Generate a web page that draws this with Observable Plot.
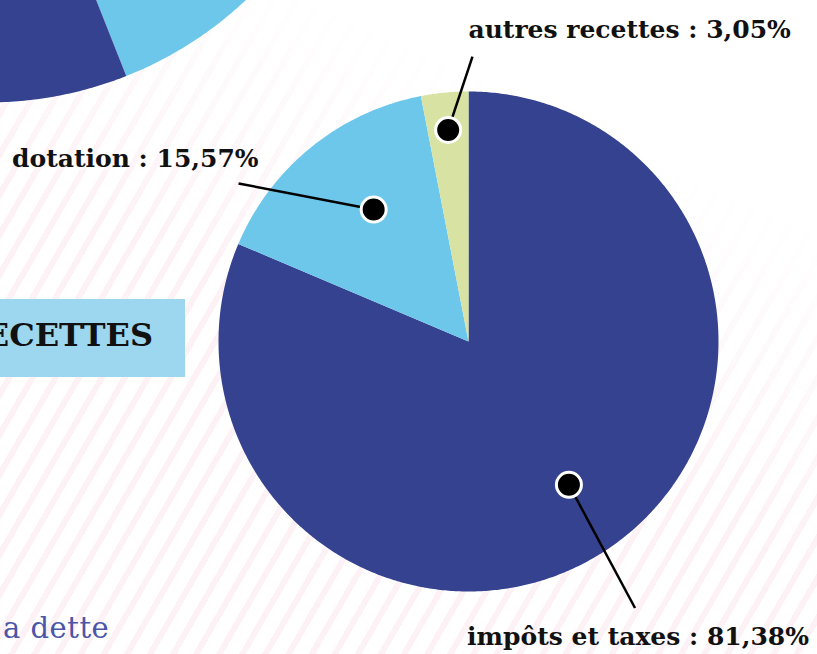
<!DOCTYPE html>
<html>
<head>
<meta charset="utf-8">
<script src="https://cdn.jsdelivr.net/npm/d3@7"></script>
<script src="https://cdn.jsdelivr.net/npm/@observablehq/plot@0.6"></script>
<style>
  html, body { margin: 0; padding: 0; }
  body {
    width: 817px; height: 654px; overflow: hidden; position: relative;
    background:
      linear-gradient(205deg, #fff 22%, rgba(255,255,255,0) 55%),
      repeating-linear-gradient(120deg, rgba(255,255,255,0) 0px, rgba(255,255,255,0) 14px, rgba(238,150,180,0.13) 14px, rgba(238,150,180,0.13) 20px),
      #fff;
  }
  #chart { position: absolute; left: 0; top: 0; }
  #section {
    position: absolute; left: 0; top: 299px; width: 185px; height: 78px;
    background: #9dd6ef; overflow: hidden;
  }
  #section span {
    position: absolute; right: 32px; top: 17px;
    font-family: "DejaVu Serif", serif; font-weight: bold; font-size: 32px; color: #111;
    white-space: nowrap;
  }
  #footer {
    position: absolute; left: 3px; top: 611px;
    font-family: "DejaVu Serif", serif; font-size: 29px; color: #4b56a8;
    white-space: nowrap; letter-spacing: 0.5px;
  }
</style>
</head>
<body>
<div id="chart"></div>
<div id="section"><span>RECETTES</span></div>
<div id="footer">a dette</div>
<script>
// ---- Data (main chart: recettes) ----
const categories = ["impôts et taxes", "dotation", "autres recettes"];
const shares = [81.38, 15.57, 3.05];
const labels = ["impôts et taxes : 81,38%", "dotation : 15,57%", "autres recettes : 3,05%"];
const colors = ["#354290", "#6cc7eb", "#d8e3a3"];

// ---- Data (cropped neighbouring chart, only two slices visible) ----
const prevCategories = ["prev-bleu-clair", "prev-bleu-fonce"];
const prevShares = [7, 30];
const prevStart = 37; // % where the first visible slice starts
const prevColors = ["#6cc7eb", "#354290"];

// ---- Layout (not data) ----
const mainPie = {cx: 0, cy: 0, r: 1};
const prevPie = {cx: -1.924, cy: 2.464, r: 1.508};
const callout = {
  "impôts et taxes": {dotR: 0.70, dotShift: -1.5, endA: 148, endR: 1.257, anchor: "middle", dx: 3, dy: 37},
  "dotation":        {dotR: 0.65, dotShift: 3.3, endA: 304.5, endR: 1.116, anchor: "end", dx: 20, dy: -16},
  "autres recettes": {dotR: 0.85, dotShift: 0, endA: 0.8, endR: 1.14, anchor: "start", dx: -4, dy: -19}
};

function polar(p, angleDeg, rr) {
  const a = angleDeg * Math.PI / 180;
  return {x: p.cx + rr * Math.sin(a), y: p.cy + rr * Math.cos(a)};
}

function slicePolygons(keys, vals, startPct, pie) {
  const pts = [];
  let acc = startPct;
  keys.forEach((k, i) => {
    const a0 = acc / 100 * 360, a1 = (acc + vals[i]) / 100 * 360;
    acc += vals[i];
    const n = Math.max(2, Math.ceil((a1 - a0) / 0.5));
    pts.push({k, x: pie.cx, y: pie.cy});
    for (let j = 0; j <= n; j++) {
      const q = polar(pie, a0 + (a1 - a0) * j / n, pie.r);
      pts.push({k, x: q.x, y: q.y});
    }
    pts.push({k, x: pie.cx, y: pie.cy});
  });
  return pts;
}

const mainPts = slicePolygons(categories, shares, 0, mainPie);
const prevPts = slicePolygons(prevCategories, prevShares, prevStart, prevPie);

// callouts derived from the slice mid-angles
let acc = 0;
const calls = categories.map((k, i) => {
  const mid = (acc + shares[i] / 2) / 100 * 360;
  acc += shares[i];
  const c = callout[k];
  const d = polar(mainPie, mid + c.dotShift, c.dotR);
  const e = polar(mainPie, c.endA, c.endR);
  return {k, label: labels[i], x1: d.x, y1: d.y, x2: e.x, y2: e.y, ...c};
});

const font = "'DejaVu Serif', serif";
const textMarks = calls.map(c => Plot.text([c], {
  x: "x2", y: "y2", text: "label",
  textAnchor: c.anchor, lineAnchor: "bottom",
  dx: c.dx, dy: c.dy,
  fontSize: 25, fontWeight: "bold", fontFamily: font, fill: "#111"
}));

const chart = Plot.plot({
  width: 817,
  height: 654,
  margin: 0,
  style: {background: "transparent"},
  x: {domain: [-1, 1], range: [218, 718], axis: null},
  y: {domain: [-1, 1], range: [591, 91], axis: null},
  color: {domain: [...categories, ...prevCategories], range: [...colors, ...prevColors]},
  marks: [
    Plot.line(prevPts, {x: "x", y: "y", z: "k", fill: "k", stroke: "none", curve: "linear"}),
    Plot.line(mainPts, {x: "x", y: "y", z: "k", fill: "k", stroke: "none", curve: "linear"}),
    Plot.link(calls, {x1: "x1", y1: "y1", x2: "x2", y2: "y2", stroke: "#000", strokeWidth: 2.5}),
    Plot.dot(calls, {x: "x1", y: "y1", r: 12.5, fill: "#000", stroke: "#fff", strokeWidth: 3}),
    ...textMarks
  ]
});
document.getElementById("chart").appendChild(chart);
</script>
</body>
</html>
